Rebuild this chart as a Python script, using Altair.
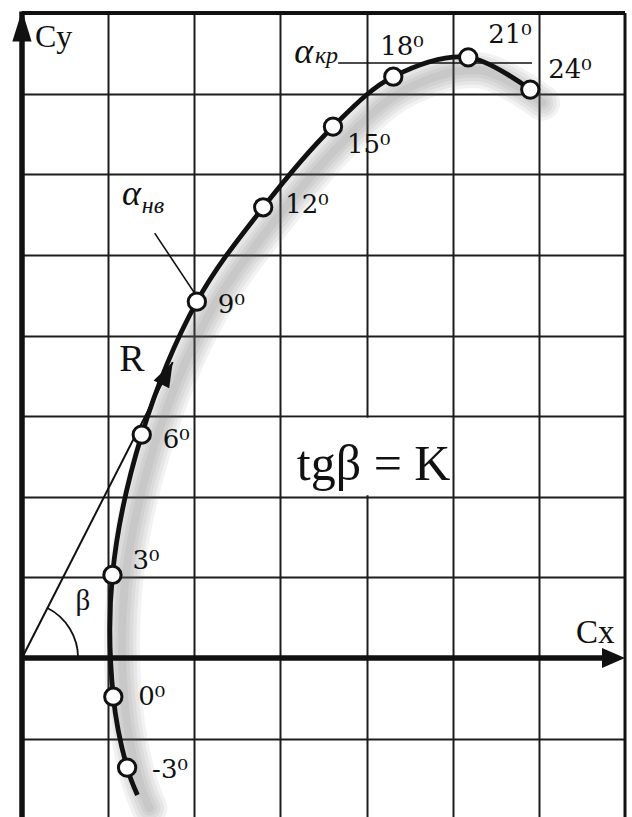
import math

import altair as alt
import pandas as pd

# Polar of the wing: lift coefficient Cy against drag coefficient Cx,
# in grid units, sampled every 3 degrees of angle of attack.
ALPHA = [None, -3, 0, 3, 6, 9, 12, 15, 18, 21, 24]
CX = [1.34, 1.22, 1.06, 1.05, 1.39, 2.03, 2.80, 3.61, 4.31, 5.18, 5.90]
CY = [-1.70, -1.36, -0.48, 1.03, 2.77, 4.42, 5.59, 6.59, 7.21, 7.45, 7.05]

# Where each angle label sits relative to its marker (pixels)
LABEL_DX = [25, 25, 20, 21, 21, 22, 14, -13, 20, 18]
LABEL_DY = [10, 8, -6, 13, 11, 6, 26, -22, -14, -12]

# Resultant vector R, drawn from the origin as a tangent to the polar
R_END = (1.75, 3.67)

X_MIN, X_MAX = 0.0, 7.0
Y_MIN, Y_MAX = -1.972, 8.0
W, H = 603, 804
PX_X = W / (X_MAX - X_MIN)
PX_Y = H / (Y_MAX - Y_MIN)

# Drop shadow displacement, pixels right and down
SHADOW_DX, SHADOW_DY = 12, 13

SERIF = "'Liberation Serif', 'Times New Roman', Times, 'DejaVu Serif', serif"
NUM_FONT = "'DejaVu Serif', 'Liberation Serif', serif"
INK = "#111111"

polar = pd.DataFrame({"alpha": ALPHA, "cx": CX, "cy": CY, "order": range(len(CX))})
markers = polar.dropna(subset=["alpha"]).copy()
markers["alpha"] = markers["alpha"].astype(int)
markers["label"] = [f"{a}\u2070" for a in markers["alpha"]]

xs = alt.Scale(domain=[X_MIN, X_MAX], nice=False, zero=False)
ys = alt.Scale(domain=[Y_MIN, Y_MAX], nice=False, zero=False)
x_axis = alt.Axis(values=[1, 2, 3, 4, 5, 6], grid=True, labels=False, ticks=False,
                  domain=False, title=None, gridColor="#1c1c1c", gridWidth=2,
                  gridOpacity=1)
y_axis = alt.Axis(values=[-1, 1, 2, 3, 4, 5, 6, 7], grid=True, labels=False, ticks=False,
                  domain=False, title=None, gridColor="#1c1c1c", gridWidth=2,
                  gridOpacity=1)


def X(field="x"):
    return alt.X(f"{field}:Q", scale=xs, axis=x_axis)


def Y(field="y"):
    return alt.Y(f"{field}:Q", scale=ys, axis=y_axis)


# Soft drop shadow under the polar curve: several translucent strokes
# of decreasing width, shifted down and to the right
shadow_layers = [
    alt.Chart(polar)
    .transform_calculate(sx=f"datum.cx + {SHADOW_DX / PX_X}",
                         sy=f"datum.cy - {SHADOW_DY / PX_Y}")
    .mark_line(interpolate="catmull-rom", color="#666666", opacity=0.085,
               strokeWidth=w, strokeCap="round")
    .encode(x=X("sx"), y=Y("sy"), order="order:Q")
    for w in (36, 29, 22, 15, 8)
]

curve = alt.Chart(polar).mark_line(
    interpolate="catmull-rom", color=INK, strokeWidth=4.8, strokeCap="butt"
).encode(x=X("cx"), y=Y("cy"), order="order:Q")

points = alt.Chart(markers).mark_point(
    shape="circle", size=300, filled=True, fill="white", stroke=INK,
    strokeWidth=3, opacity=1,
).encode(x=X("cx"), y=Y("cy"))

label_layers = []
for (_, row), dx, dy in zip(markers.iterrows(), LABEL_DX, LABEL_DY):
    label_layers.append(
        alt.Chart(markers).transform_filter(alt.datum.alpha == int(row["alpha"]))
        .mark_text(font=NUM_FONT, fontSize=26, color=INK, align="left",
                   baseline="alphabetic", dx=dx, dy=dy)
        .encode(x=X("cx"), y=Y("cy"), text="label:N")
    )

# White plate behind the formula, hiding the grid line that crosses it
plate = alt.Chart(pd.DataFrame({"x": [3.02], "x2": [4.98], "y": [2.02], "y2": [2.98]})).mark_rect(
    color="white"
).encode(x=X("x"), x2="x2:Q", y=Y("y"), y2="y2:Q")

# Frame, axes, the R vector and the leader lines of the critical angles
segments = pd.DataFrame([
    {"x": X_MIN, "y": Y_MIN, "x2": X_MIN, "y2": Y_MAX + 0.02, "w": 5.5},
    {"x": X_MIN, "y": 0.0, "x2": X_MAX - 0.1, "y2": 0.0, "w": 5.5},
    {"x": X_MIN, "y": Y_MAX, "x2": X_MAX, "y2": Y_MAX, "w": 4},
    {"x": X_MAX, "y": Y_MIN, "x2": X_MAX, "y2": Y_MAX, "w": 3},
    {"x": 0.0, "y": 0.0, "x2": R_END[0], "y2": R_END[1], "w": 2},
    {"x": 3.67, "y": 7.38, "x2": 5.92, "y2": 7.38, "w": 1.6},
    {"x": 1.54, "y": 5.27, "x2": 2.10, "y2": 4.37, "w": 1.6},
])
rules = alt.Chart(segments).mark_rule(color=INK, strokeCap="butt").encode(
    x=X("x"), y=Y("y"), x2="x2:Q", y2="y2:Q",
    strokeWidth=alt.StrokeWidth("w:Q", scale=None),
)

# Arrowheads: tips sit on the given point, shapes are rotated by "angle"
r_angle = math.degrees(math.atan2(R_END[0] * PX_X, R_END[1] * PX_Y))
heads = [
    alt.Chart(pd.DataFrame({"x": [X_MIN], "y": [Y_MAX + 0.03]})).mark_point(
        shape="M0,0L0.62,2L-0.62,2Z", size=961, filled=True, color=INK, opacity=1
    ).encode(x=X(), y=Y()),
    alt.Chart(pd.DataFrame({"x": [X_MAX], "y": [0.0]})).mark_point(
        shape="M0,0L-2,-0.87L-2,0.87Z", size=529, filled=True, color=INK, opacity=1
    ).encode(x=X(), y=Y()),
    alt.Chart(pd.DataFrame({"x": [R_END[0]], "y": [R_END[1]]})).mark_point(
        shape="M0,0L0.7,2L-0.7,2Z", size=625, filled=True, color=INK, opacity=1,
        angle=r_angle,
    ).encode(x=X(), y=Y()),
]

# Angle beta between the R vector and the Cx axis
beta_arc = alt.Chart(pd.DataFrame({"x": [0.0], "y": [0.0]})).mark_arc(
    theta=math.radians(r_angle), theta2=math.pi / 2, radius=57, radius2=55.2,
    color=INK,
).encode(x=X(), y=Y())

upright = pd.DataFrame([
    {"x": 0.15, "y": 7.58, "text": "Cy", "size": 32},
    {"x": 6.43, "y": 0.19, "text": "Cx", "size": 33},
    {"x": 1.13, "y": 3.56, "text": "R", "size": 38},
    {"x": 0.62, "y": 0.60, "text": "β", "size": 29},
    {"x": 3.19, "y": 2.21, "text": "tgβ = K", "size": 50},
])
upright_text = alt.Chart(upright).mark_text(
    font=SERIF, color=INK, align="left", baseline="alphabetic"
).encode(x=X(), y=Y(), text="text:N", size=alt.Size("size:Q", scale=None))

italic = pd.DataFrame([
    {"x": 3.16, "y": 7.38, "text": "α", "size": 36},
    {"x": 3.40, "y": 7.38, "text": "кр", "size": 24},
    {"x": 1.16, "y": 5.62, "text": "α", "size": 36},
    {"x": 1.39, "y": 5.52, "text": "нв", "size": 24},
])
italic_text = alt.Chart(italic).mark_text(
    font=SERIF, fontStyle="italic", color=INK, align="left", baseline="alphabetic"
).encode(x=X(), y=Y(), text="text:N", size=alt.Size("size:Q", scale=None))

chart = alt.layer(
    *shadow_layers, plate, rules, beta_arc, curve, *heads, points, *label_layers,
    upright_text, italic_text,
).properties(
    width=W, height=H, autosize="none",
    padding={"left": 22, "top": 13, "right": 7, "bottom": 0},
    background="white",
).configure_view(strokeWidth=0)

chart.save("out.html", embed_options={"renderer": "svg", "actions": False})
